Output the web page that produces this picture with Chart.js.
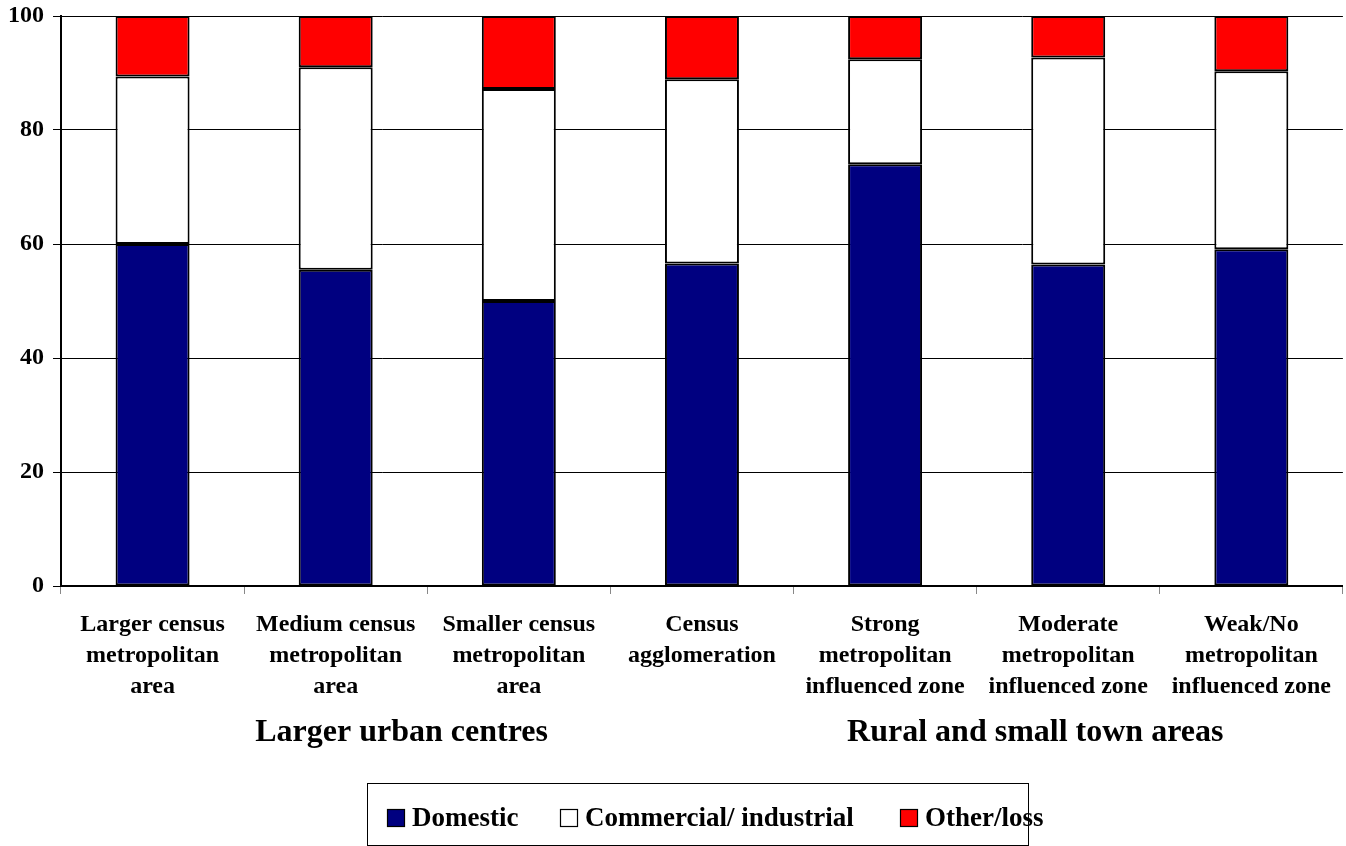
<!DOCTYPE html>
<html>
<head>
<meta charset="utf-8">
<script src="https://cdn.jsdelivr.net/npm/chart.js@4.4.1/dist/chart.umd.min.js"></script>
<style>
  html, body { margin: 0; padding: 0; background: #fff; }
  #wrap { width: 1346px; height: 846px; }
</style>
</head>
<body>
<div id="wrap"><canvas id="waterUseChart" width="1346" height="846"></canvas></div>
<script>
// Share of water use by sector, per settlement type (percent)
const categories = [
  ['Larger census', 'metropolitan', 'area'],
  ['Medium census', 'metropolitan', 'area'],
  ['Smaller census', 'metropolitan', 'area'],
  ['Census', 'agglomeration'],
  ['Strong', 'metropolitan', 'influenced zone'],
  ['Moderate', 'metropolitan', 'influenced zone'],
  ['Weak/No', 'metropolitan', 'influenced zone'],
];
const domestic = [60.0, 55.5, 50.0, 56.6, 74.0, 56.4, 59.1];
const commercial = [29.4, 35.5, 37.2, 32.3, 18.4, 36.3, 31.2];
const otherLoss = [10.6, 9.0, 12.8, 11.1, 7.6, 7.3, 9.7];
const yTicks = [0, 20, 40, 60, 80, 100];

// Group captions under the category labels, placed in category units
const groupNames = ['Larger urban centres', 'Rural and small town areas'];
const groupCentres = [1.36, 4.82];

const FONT = '"Liberation Serif", "Times New Roman", serif';

// Draws the two group captions and the boxed legend below the axis
const extrasPlugin = {
  id: 'extras',
  afterDraw(chart) {
    const ctx = chart.ctx;
    const x = chart.scales.x;
    ctx.save();
    ctx.fillStyle = '#000';
    ctx.textAlign = 'center';
    ctx.textBaseline = 'middle';
    ctx.font = 'bold 32px ' + FONT;
    groupNames.forEach((name, i) => {
      ctx.fillText(name, x.getPixelForValue(groupCentres[i]), 733);
    });

    // legend box
    ctx.strokeStyle = '#000';
    ctx.lineWidth = 1;
    ctx.strokeRect(367.5, 783.5, 661, 62);
    ctx.font = 'bold 27px ' + FONT;
    ctx.textAlign = 'left';
    const starts = [387, 560, 900];
    chart.data.datasets.forEach((ds, i) => {
      const sx = starts[i];
      ctx.fillStyle = ds.backgroundColor;
      ctx.fillRect(sx, 809, 18, 18);
      ctx.lineWidth = 1.2;
      ctx.strokeRect(sx + 0.5, 809.5, 17, 17);
      ctx.fillStyle = '#000';
      ctx.fillText(ds.label, sx + 25, 819);
    });
    ctx.restore();
  },
};

const ctx = document.getElementById('waterUseChart').getContext('2d');
new Chart(ctx, {
  type: 'bar',
  data: {
    labels: categories,
    datasets: [
      { label: 'Domestic', data: domestic, backgroundColor: '#000080' },
      { label: 'Commercial/ industrial', data: commercial, backgroundColor: '#ffffff' },
      { label: 'Other/loss', data: otherLoss, backgroundColor: '#ff0000' },
    ].map(d => Object.assign(d, {
      borderColor: '#000',
      borderWidth: 2,
      borderSkipped: false,
      barPercentage: 0.404,
      categoryPercentage: 1,
    })),
  },
  options: {
    responsive: false,
    animation: false,
    layout: { padding: { top: 16, left: 0, right: 0, bottom: 130 } },
    plugins: {
      legend: { display: false },
      tooltip: { enabled: false },
    },
    scales: {
      x: {
        stacked: true,
        afterFit(scale) { scale.height = 130; },
        grid: {
          offset: true,
          drawOnChartArea: false,
          drawTicks: true,
          tickLength: 8,
          color: '#888',
        },
        border: { color: '#000', width: 2 },
        ticks: {
          color: '#000',
          padding: 15,
          maxRotation: 0,
          autoSkip: false,
          font: { family: FONT, size: 24, weight: 'bold', lineHeight: 1.3 },
        },
      },
      y: {
        stacked: true,
        min: 0,
        max: 100,
        afterFit(scale) {
          scale.width = 61;
          scale.paddingTop = 0;
          scale.paddingBottom = 0;
        },
        afterBuildTicks(scale) { scale.ticks = yTicks.map(v => ({ value: v })); },
        grid: { color: '#000', lineWidth: 1, tickLength: 8 },
        border: { color: '#000', width: 2 },
        ticks: {
          color: '#000',
          padding: 9,
          font: { family: FONT, size: 24, weight: 'bold' },
        },
      },
    },
  },
  plugins: [extrasPlugin],
});
</script>
</body>
</html>
